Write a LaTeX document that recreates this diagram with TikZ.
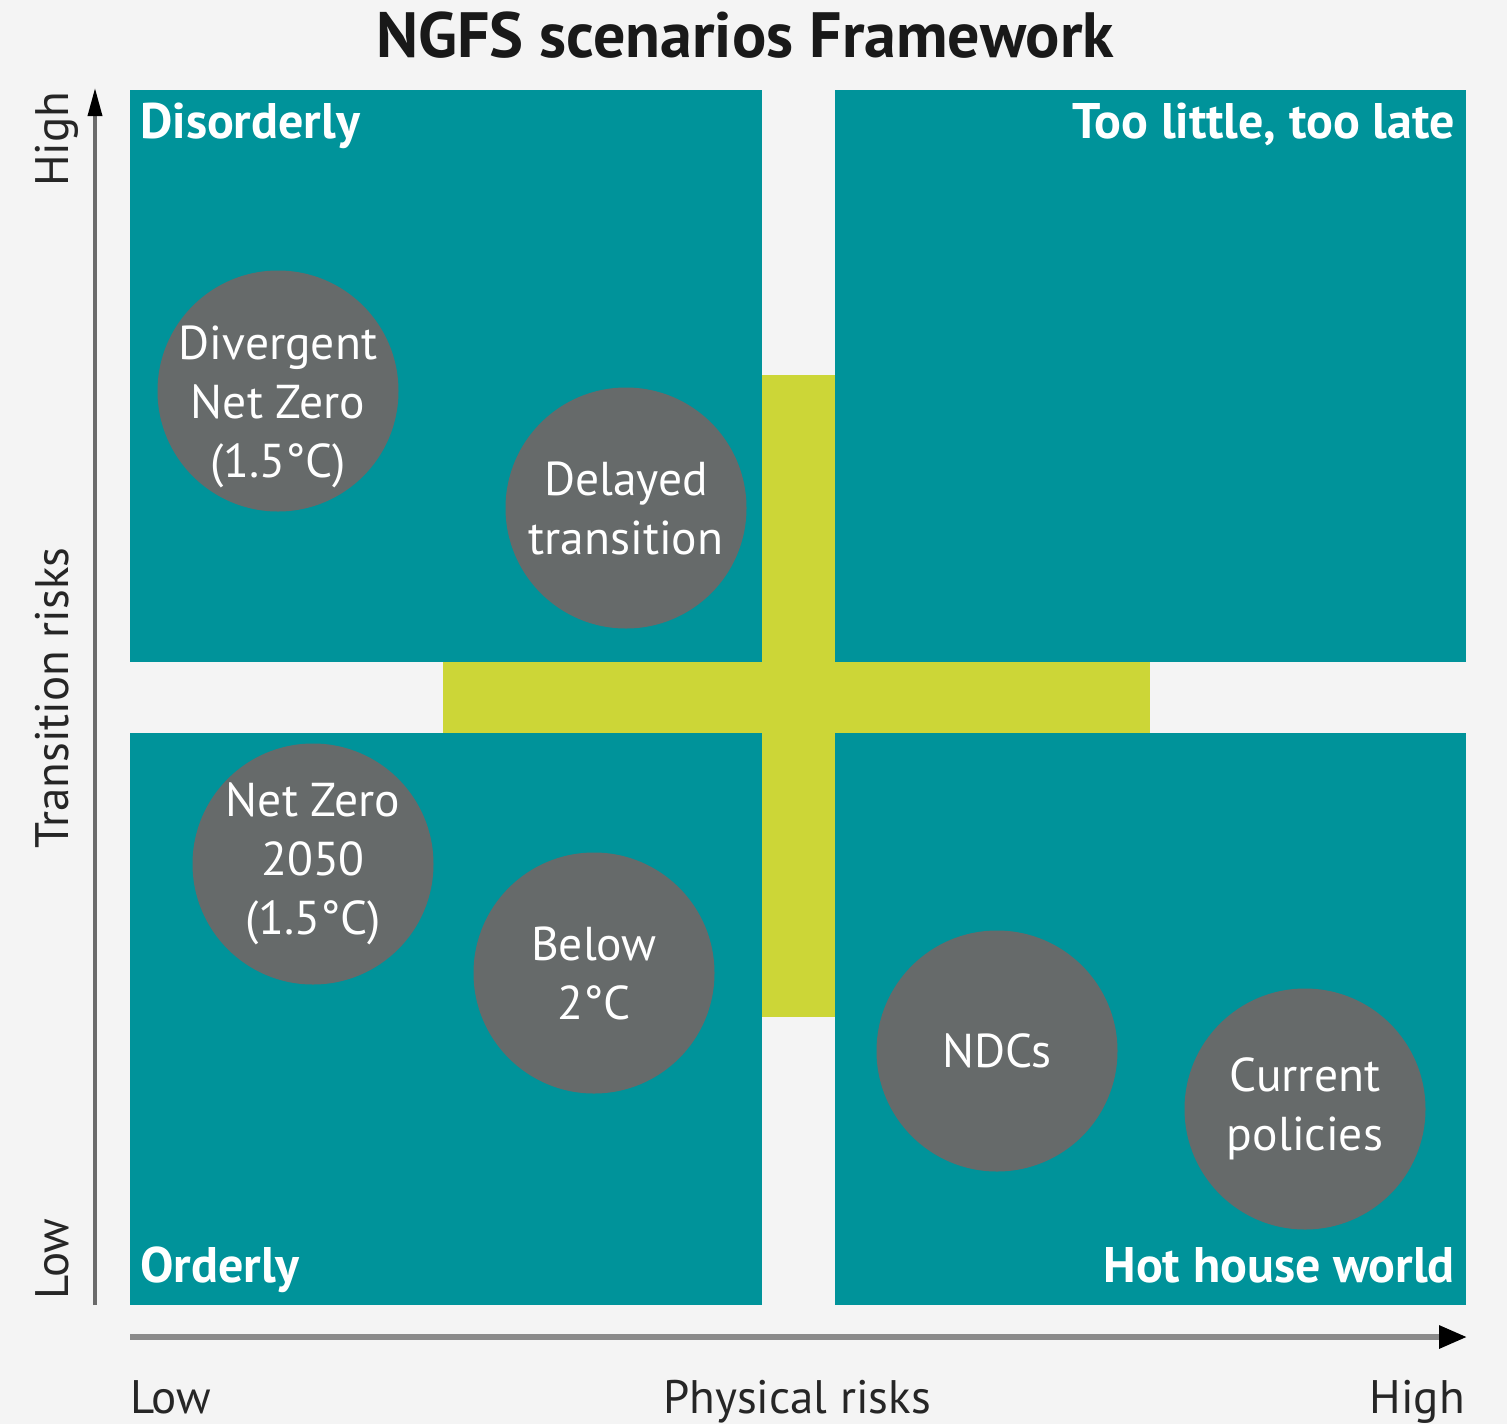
\documentclass[tikz,border=0pt]{standalone}
\usepackage{fontspec}
\setmainfont{PT Sans}
\usetikzlibrary{arrows.meta}
\definecolor{bgc}{HTML}{F4F4F4}
\definecolor{ngteal}{HTML}{00939A}
\definecolor{nglime}{HTML}{CCD637}
\definecolor{ngcirc}{HTML}{666A6A}
\definecolor{axgray}{HTML}{8A8A8A}
\definecolor{yaxgray}{HTML}{6A6A6A}
\tikzset{
  quad/.style={fill=ngteal},
  lime/.style={fill=nglime},
  scen/.style={circle, fill=ngcirc, minimum size=241pt, inner sep=0pt, text=white, align=center,
    font=\fontsize{47.5}{59}\selectfont},
  scentext/.style={text=white, align=center, inner sep=0pt, font=\fontsize{47.5}{59}\selectfont},
  qlabel/.style={text=white, font=\bfseries\fontsize{50}{50}\selectfont, inner sep=0pt},
  axlabel/.style={text=black!85, font=\fontsize{47}{47}\selectfont, inner sep=0pt},
}
\begin{document}
\begin{tikzpicture}[x=1pt,y=-1pt]
\useasboundingbox (0,0) rectangle (1507,1424);
\fill[bgc] (0,0) rectangle (1507,1424);
% lime cross
\fill[lime] (762,375) rectangle (835,1017);
\fill[lime] (443,662) rectangle (1150,733);
% quadrants
\fill[quad] (130,90) rectangle (762,662);
\fill[quad] (835,90) rectangle (1466,662);
\fill[quad] (130,733) rectangle (762,1305);
\fill[quad] (835,733) rectangle (1466,1305);
% title
\node[anchor=base, inner sep=0pt, text=black!90, font=\bfseries\fontsize{64}{64}\selectfont] (title) at (745,57) {NGFS scenarios Framework};
% quadrant labels
\node[qlabel, anchor=base west] (dis) at (140,138) {Disorderly};
\node[qlabel, anchor=base east] (tlt) at (1455,138) {Too little, too late};
\node[qlabel, anchor=base west] (ord) at (140,1282) {Orderly};
\node[qlabel, anchor=base east] (hhw) at (1455,1282) {Hot house world};
% scenarios
\node[scen] (dnz) at (278,391) {};
\node[scentext] (dnzt) at (278,407) {Divergent\\Net Zero\\(1.5°C)};
\node[scen] (dt) at (626,508) {Delayed\\transition};
\node[scen] (nz) at (313,864) {Net Zero\\2050\\(1.5°C)};
\node[scen] (b2) at (594,973) {Below\\2°C};
\node[scen] (ndc) at (997,1051) {NDCs};
\node[scen] (cp) at (1305,1109) {Current\\policies};
% axes
\coordinate (ybot) at (95,1305);
\coordinate (ytop) at (95,88);
\coordinate (xl) at (130,1337);
\coordinate (xr) at (1467,1337);
\draw[yaxgray, line width=3.5pt, -{Triangle[length=28pt,width=14pt,black]}] (ybot) -- (ytop);
\draw[axgray, line width=6pt, -{Triangle[length=28pt,width=22pt,black]}] (xl) -- (xr);
% axis labels
\node[axlabel, rotate=90, anchor=base west] (yhigh) at (68,187) {High};
\node[axlabel, rotate=90, anchor=base] (ytitle) at (68,698) {Transition risks};
\node[axlabel, rotate=90, anchor=base] (ylow) at (68,1259) {Low};
\node[axlabel, anchor=base west] (xlow) at (130,1413) {Low};
\node[axlabel, anchor=base] (xtitle) at (797,1413) {Physical risks};
\node[axlabel, anchor=base east] (xhigh) at (1465,1413) {High};
\end{tikzpicture}
\end{document}
